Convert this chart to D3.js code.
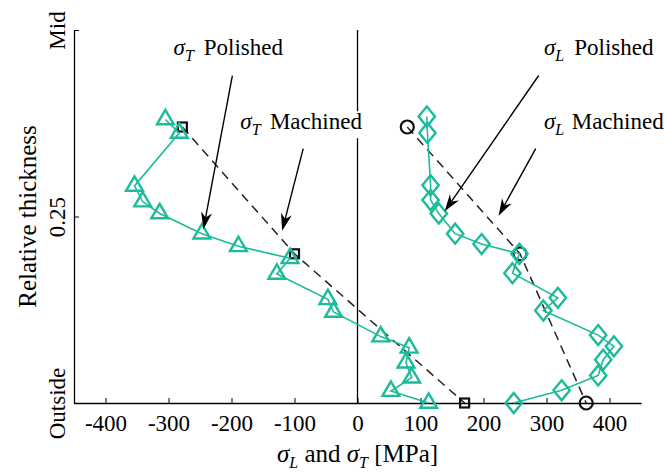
<!DOCTYPE html>
<html>
<head>
<meta charset="utf-8">
<script src="https://cdn.jsdelivr.net/npm/d3@7"></script>
<style>
  body { margin: 0; background: #fff; }
  text { font-family: "Liberation Serif", "Times New Roman", serif; fill: #000; }
</style>
</head>
<body>
<svg id="chart" width="664" height="474"></svg>
<script>
// Residual stress through the plate (0 = outside surface, 0.5 = mid-thickness)
const tPolishedThickness = [0.380, 0.362, 0.291, 0.270, 0.254, 0.227, 0.210, 0.194, 0.173, 0.139, 0.122, 0.089, 0.074, 0.054, 0.034, 0.016, 0.000];
const tPolishedStress    = [-305, -283, -354, -341, -314, -247, -189, -107, -128, -47, -38, 37, 82, 77, 86, 53, 113];

const tMachinedThickness = [0.370, 0.200, 0.000];
const tMachinedStress    = [-278, -100, 170];

const lPolishedThickness = [0.384, 0.362, 0.292, 0.272, 0.254, 0.227, 0.213, 0.200, 0.174, 0.141, 0.124, 0.091, 0.076, 0.058, 0.037, 0.017, 0.000];
const lPolishedStress    = [110, 111, 116, 116, 129, 155, 197, 257, 246, 318, 295, 382, 407, 390, 382, 324, 248];

const lMachinedThickness = [0.370, 0.200, 0.000];
const lMachinedStress    = [79, 258, 363];

const xTickValues = [-400, -300, -200, -100, 0, 100, 200, 300, 400];
const yTickValues = [0, 0.25, 0.5];
const yTickLabels = ["Outside", "0.25", "Mid"];

const TEAL = "#1bbb9b";

const svg = d3.select("#chart");
const x = d3.scaleLinear().domain([-450, 450]).range([74, 641]);
const y = d3.scaleLinear().domain([0, 0.5]).range([403, 30]);

const zip = (xs, ys) => xs.map((v, i) => ({ s: v, t: ys[i] }));
const tPol = zip(tPolishedStress, tPolishedThickness);
const tMac = zip(tMachinedStress, tMachinedThickness);
const lPol = zip(lPolishedStress, lPolishedThickness);
const lMac = zip(lMachinedStress, lMachinedThickness);

// Axes: bottom and left only, ticks pointing inward
const xAxis = svg.append("g").attr("transform", `translate(0,${y(0)})`)
  .call(d3.axisBottom(x).tickValues(xTickValues).tickSizeInner(-5).tickSizeOuter(0).tickPadding(12)
        .tickFormat(d3.format("d")));
xAxis.select(".domain").attr("stroke", "#000").attr("stroke-width", 1.3);
xAxis.selectAll(".tick line").attr("stroke", "#000").attr("stroke-width", 1);
xAxis.selectAll(".tick text").attr("font-size", 23).attr("font-family", "Liberation Serif")
  .text(d => d < 0 ? "-" + Math.abs(d) : d);

const yAxis = svg.append("g").attr("transform", `translate(${x(-450)},0)`)
  .call(d3.axisLeft(y).tickValues(yTickValues).tickSizeInner(-5).tickSizeOuter(0)
        .tickFormat((d, i) => yTickLabels[i]));
yAxis.select(".domain").attr("stroke", "#000").attr("stroke-width", 1.3);
yAxis.selectAll(".tick line").attr("stroke", "#000").attr("stroke-width", 1);
yAxis.selectAll(".tick text")
  .attr("font-size", 23).attr("font-family", "Liberation Serif")
  .attr("text-anchor", "middle")
  .attr("x", null).attr("dy", null)
  .attr("transform", "translate(-9,0) rotate(-90)");

// Zero-stress reference line
svg.append("line")
  .attr("x1", x(0)).attr("x2", x(0))
  .attr("y1", y(0)).attr("y2", y(0.5))
  .attr("stroke", "#000").attr("stroke-width", 1.3);

// Axis titles
const xTitle = svg.append("text")
  .attr("x", (x.range()[0] + x.range()[1]) / 2).attr("y", 462)
  .attr("text-anchor", "middle").attr("font-size", 25);
xTitle.append("tspan").attr("font-style", "italic").text("σ");
xTitle.append("tspan").attr("font-style", "italic").attr("font-size", 16).attr("dy", 6).text("L");
xTitle.append("tspan").attr("dy", -6).text("\u00a0and\u00a0");
xTitle.append("tspan").attr("font-style", "italic").text("σ");
xTitle.append("tspan").attr("font-style", "italic").attr("font-size", 16).attr("dy", 6).text("T");
xTitle.append("tspan").attr("dy", -6).text("\u00a0[MPa]");

svg.append("text")
  .attr("transform", `translate(36,${(y(0) + y(0.5)) / 2}) rotate(-90)`)
  .attr("text-anchor", "middle").attr("font-size", 25)
  .text("Relative thickness");

// Machined profiles: dashed black lines with open markers
const line = d3.line().x(d => x(d.s)).y(d => y(d.t));
[tMac, lMac].forEach(data => {
  svg.append("path").datum(data).attr("d", line)
    .attr("fill", "none").attr("stroke", "#222").attr("stroke-width", 1.5)
    .attr("stroke-dasharray", "9,6");
});
svg.append("g").selectAll("rect").data(tMac).join("rect")
  .attr("x", d => x(d.s) - 4.5).attr("y", d => y(d.t) - 4.5)
  .attr("width", 9).attr("height", 9)
  .attr("fill", "none").attr("stroke", "#111").attr("stroke-width", 2.2);
svg.append("g").selectAll("circle").data(lMac).join("circle")
  .attr("cx", d => x(d.s)).attr("cy", d => y(d.t)).attr("r", 6.5)
  .attr("fill", "none").attr("stroke", "#111").attr("stroke-width", 2.2);

// Polished profiles: teal lines with triangle / diamond markers
[tPol, lPol].forEach(data => {
  svg.append("path").datum(data).attr("d", line)
    .attr("fill", "none").attr("stroke", TEAL).attr("stroke-width", 1.6);
});
const triPath = "M0,-9.6L8.4,4.8L-8.4,4.8Z";
svg.append("g").selectAll("path").data(tPol).join("path")
  .attr("d", triPath)
  .attr("transform", d => `translate(${x(d.s)},${y(d.t)})`)
  .attr("fill", "none").attr("stroke", TEAL).attr("stroke-width", 2.4).attr("stroke-linejoin", "miter");
const diaPath = "M0,-10L8.2,0L0,10L-8.2,0Z";
svg.append("g").selectAll("path").data(lPol).join("path")
  .attr("d", diaPath)
  .attr("transform", d => `translate(${x(d.s)},${y(d.t)})`)
  .attr("fill", "none").attr("stroke", TEAL).attr("stroke-width", 2.4);

// Callouts: label text with arrows pointing at each profile
const callouts = [
  { sub: "T", word: "Polished", tx: -292, ty: 0.467, wx: -244, from: [-198.6, 0.439], to: [-244.6, 0.233] },
  { sub: "T", word: "Machined", tx: -186, ty: 0.367, wx: -139, from: [-86.2, 0.341],  to: [-119.6, 0.231], mask: true },
  { sub: "L", word: "Polished", tx: 296,  ty: 0.467, wx: 344,  from: [287.6, 0.439],  to: [138.4, 0.257] },
  { sub: "L", word: "Machined", tx: 296,  ty: 0.367, wx: 340,  from: [282.9, 0.341],  to: [224, 0.251] }
];
callouts.forEach(c => {
  const g = svg.append("g");
  const label = g.append("text").attr("font-size", 23);
  label.append("tspan").attr("x", x(c.tx)).attr("y", y(c.ty)).attr("font-style", "italic").text("σ");
  label.append("tspan").attr("font-style", "italic").attr("font-size", 16).attr("dy", 6).text(c.sub);
  label.append("tspan").attr("x", x(c.wx)).attr("y", y(c.ty)).text(c.word);
  if (c.mask) {
    const bb = label.node().getBBox();
    g.insert("rect", "text")
      .attr("x", bb.x - 1).attr("y", bb.y + 2).attr("width", bb.width + 2).attr("height", bb.height - 2)
      .attr("fill", "#fff");
  }
  const x1 = x(c.from[0]), y1 = y(c.from[1]), x2 = x(c.to[0]), y2 = y(c.to[1]);
  const ang = Math.atan2(y2 - y1, x2 - x1);
  const len = Math.hypot(x2 - x1, y2 - y1);
  const head = 17, back = 12, half = 5.5;
  const ag = g.append("g").attr("transform", `translate(${x1},${y1}) rotate(${ang * 180 / Math.PI})`);
  ag.append("line").attr("x1", 0).attr("y1", 0).attr("x2", len - back).attr("y2", 0)
    .attr("stroke", "#000").attr("stroke-width", 1.4);
  ag.append("path")
    .attr("d", `M${len},0L${len - head},${-half}L${len - back},0L${len - head},${half}Z`)
    .attr("fill", "#000");
});
</script>
</body>
</html>
